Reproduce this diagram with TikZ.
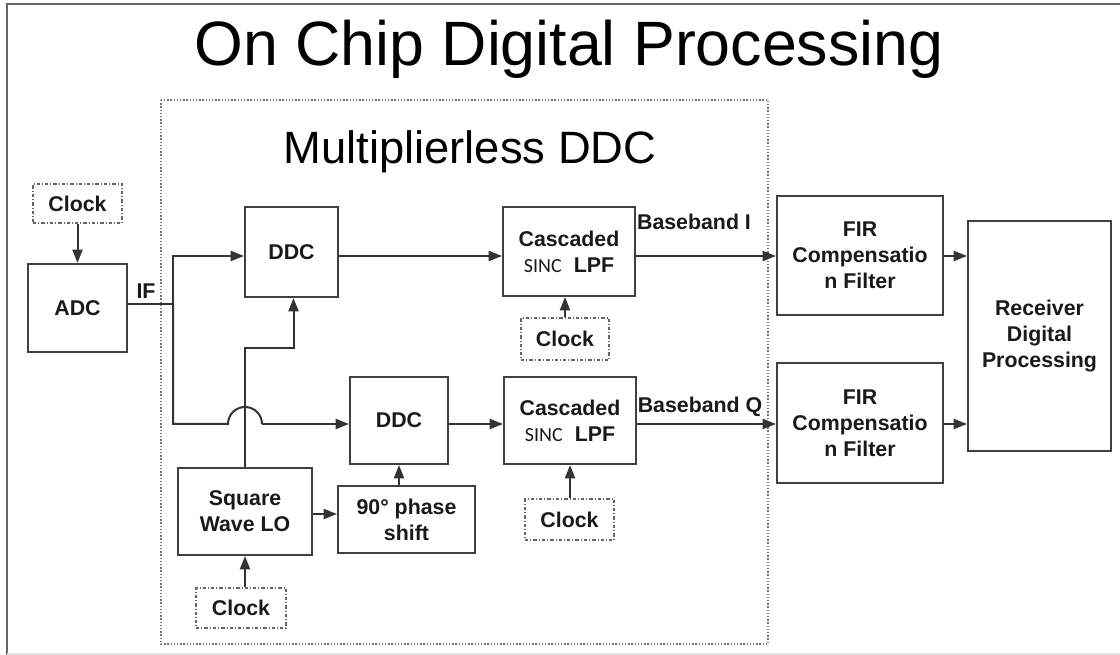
\documentclass[tikz,border=0pt]{standalone}
\usepackage{fontspec}
\setmainfont{Liberation Sans}
\newfontfamily\sincfont{Carlito}
\usetikzlibrary{arrows.meta,fit}
\tikzset{
  wire/.style={line width=1.5pt, draw=black!80},
  arr/.style={wire, -{Triangle[length=10pt,width=7.5pt]}},
  txt/.style={inner sep=0pt, align=center,
    font=\fontsize{16}{19.5}\selectfont\bfseries, text=black!90},
  blk/.style={draw=black!75, line width=1.5pt, inner sep=0pt},
  clk/.style={draw=black!60, line width=0.9pt,
    dash pattern=on 2.5pt off 1.5pt on 0.8pt off 1.5pt, inner sep=0pt},
  lbl/.style={txt},
}
\newcommand{\sinclpf}{Cascaded\\{\mdseries\sincfont\fontsize{15}{18}\selectfont SINC}\hspace{9pt}LPF}
\begin{document}
\begin{tikzpicture}[x=0.75pt,y=-0.75pt]
\useasboundingbox (0,0) rectangle (1120,655);

% slide frame
\draw[line width=1.5pt, black!60] (7,655) -- (7,4) -- (1120,4);
\draw[line width=1pt, black!12] (7,654) -- (1120,654);

% titles
\node[anchor=base, inner sep=0pt, font=\fontsize{47}{50}\selectfont] (title) at (569,66) {On Chip Digital Processing};
\draw[black!55, line width=1.1pt, dash pattern=on 1.1pt off 1.3pt] (161,100) rectangle (768,644);
\node[anchor=base, inner sep=0pt, font=\fontsize{34}{38}\selectfont] (sub) at (470,164) {Multiplierless DDC};

% blocks
\node[clk, fit={(33,184) (122,223)}, label={[txt]center:Clock}] (clk0) {};
\node[blk, fit={(28,264) (127,352)}, label={[txt]center:ADC}] (adc) {};
\node[blk, fit={(245,207) (338,297)}, label={[txt]center:DDC}] (ddc1) {};
\node[blk, fit={(350,377) (448,464)}, label={[txt]center:DDC}] (ddc2) {};
\node[blk, fit={(178,468) (312,555)}, label={[txt]center:Square\\Wave LO}] (lo) {};
\node[blk, fit={(338,486) (475,553)}, label={[txt]center:90\textdegree{} phase\\shift}] (ps) {};
\node[clk, fit={(196,588) (286,628)}, label={[txt]center:Clock}] (clk3) {};
\node[blk, fit={(503,207) (635,296)}, label={[txt]center:\sinclpf}] (lpf1) {};
\node[blk, fit={(504,377) (636,464)}, label={[txt]center:\sinclpf}] (lpf2) {};
\node[clk, fit={(521,318) (609,360)}, label={[txt]center:Clock}] (clk1) {};
\node[clk, fit={(525,499) (614,540)}, label={[txt]center:Clock}] (clk2) {};
\node[blk, fit={(777,196) (943,315)}, label={[txt]center:FIR\\Compensatio\\n Filter}] (fir1) {};
\node[blk, fit={(777,363) (943,483)}, label={[txt]center:FIR\\Compensatio\\n Filter}] (fir2) {};
\node[blk, fit={(968,221) (1111,451)}, label={[txt]center:Receiver\\Digital\\Processing}] (rx) {};

% labels
\node[lbl] (lif) at (146,291) {IF};
\node[lbl] (lbi) at (694,222) {Baseband I};
\node[lbl] (lbq) at (700,407) {Baseband Q};

% signal rows
\coordinate (rowIF) at (0,304);
\coordinate (rowI) at (0,256);
\coordinate (rowQ) at (0,424);
\coordinate (rowLO) at (0,514);
\coordinate (sp) at (173,304);
\coordinate (hopL) at (228,424);
\coordinate (loUp) at (245,348);

% connectors
\draw[arr] (clk0.south) -- (clk0.south |- adc.north);
\draw[wire] (adc.east |- rowIF) -- (sp);
\draw[arr] (sp) |- (ddc1.west |- rowI);
\draw[wire] (sp) |- (hopL) arc[start angle=180, end angle=0, radius=12.75pt];
\draw[arr] ([xshift=25.5pt]hopL) -- (ddc2.west |- rowQ);
\draw[arr] (ddc1.east |- rowI) -- (lpf1.west |- rowI);
\draw[arr] (ddc2.east |- rowQ) -- (lpf2.west |- rowQ);
\draw[arr] (lpf1.east |- rowI) -- (fir1.west |- rowI);
\draw[arr] (lpf2.east |- rowQ) -- (fir2.west |- rowQ);
\draw[arr] (fir1.east |- rowI) -- (rx.west |- rowI);
\draw[arr] (fir2.east |- rowQ) -- (rx.west |- rowQ);
\draw[arr] (lo.north) -- (loUp) -| ([xshift=1.5pt]ddc1.south);
\draw[arr] (lo.east |- rowLO) -- (ps.west |- rowLO);
\draw[arr] (ddc2.south |- ps.north) -- (ddc2.south);
\draw[arr] (lo.south |- clk3.north) -- (lo.south);
\draw[arr] (clk1.north) -- (clk1.north |- lpf1.south);
\draw[arr] (lpf2.south |- clk2.north) -- (lpf2.south);
\end{tikzpicture}
\end{document}
